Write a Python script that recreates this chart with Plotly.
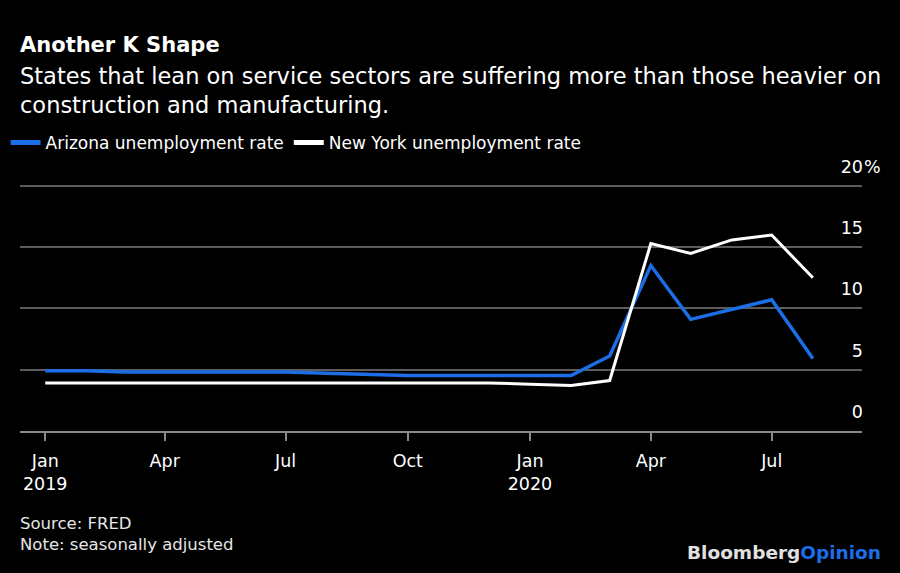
import plotly.graph_objects as go

months = ["2019-01-01","2019-02-01","2019-03-01","2019-04-01","2019-05-01","2019-06-01",
          "2019-07-01","2019-08-01","2019-09-01","2019-10-01","2019-11-01","2019-12-01",
          "2020-01-01","2020-02-01","2020-03-01","2020-04-01","2020-05-01","2020-06-01",
          "2020-07-01","2020-08-01"]
arizona = [4.9, 4.9, 4.8, 4.8, 4.8, 4.8, 4.8, 4.7, 4.6, 4.5, 4.5, 4.5,
           4.5, 4.5, 6.1, 13.5, 9.1, 9.9, 10.7, 5.9]
new_york = [3.9, 3.9, 3.9, 3.9, 3.9, 3.9, 3.9, 3.9, 3.9, 3.9, 3.9, 3.9,
            3.8, 3.7, 4.1, 15.3, 14.5, 15.6, 16.0, 12.5]

x_tickvals = ["2019-01-01","2019-04-01","2019-07-01","2019-10-01","2020-01-01","2020-04-01","2020-07-01"]
x_ticktext = ["Jan<br>2019","Apr","Jul","Oct","Jan<br>2020","Apr","Jul"]
y_tickvals = [0, 5, 10, 15, 20]
y_ticktext = ["0", "5", "10", "15", "20"]

BLUE = "#1b6ee6"
FONT = "DejaVu Sans, Liberation Sans, Arial, sans-serif"

W, H = 900, 573
YTOP = 20.5
L, R, B = 20, 38, 142
PX_PER_UNIT = 12.2
T = round(431.3 - 0.03 * PX_PER_UNIT - (YTOP + 0.03) * PX_PER_UNIT)
ph = H - T - B
pw = W - L - R

def py(p):
    return (H - B - p) / ph

fig = go.Figure()
fig.add_trace(go.Scatter(x=months, y=arizona, mode="lines", name="Arizona unemployment rate",
                         line=dict(color=BLUE, width=3.5)))
fig.add_trace(go.Scatter(x=months, y=new_york, mode="lines", name="New York unemployment rate",
                         line=dict(color="#ffffff", width=3)))

fig.update_layout(
    width=W, height=H,
    paper_bgcolor="#000000", plot_bgcolor="#000000",
    margin=dict(l=L, r=R, t=T, b=B, autoexpand=False),
    font=dict(family=FONT, color="#ffffff", size=17),
    showlegend=True,
    legend=dict(orientation="h", x=-0.01 - 6 / pw, xanchor="left", y=py(143), yanchor="middle",
                font=dict(size=17, color="#ffffff", family=FONT), bgcolor="rgba(0,0,0,0)",
                itemwidth=30, tracegroupgap=0, itemsizing="constant"),
    xaxis=dict(
        type="date", range=["2018-12-13", "2020-09-07"],
        tickvals=x_tickvals, ticktext=x_ticktext,
        showgrid=False, zeroline=False,
        showline=True, linecolor="#8a8a8a", linewidth=1.5,
        ticks="outside", ticklen=8, tickwidth=1.5, tickcolor="#8a8a8a",
        ticklabelstandoff=5,
        tickfont=dict(size=17.5, color="#ffffff", family=FONT),
        fixedrange=True,
    ),
    yaxis=dict(
        range=[-0.03, YTOP], side="right",
        tickvals=y_tickvals, ticktext=y_ticktext,
        showgrid=True, gridcolor="#5c5c5c", gridwidth=1.5,
        zeroline=False, showline=False,
        ticks="", ticklabelposition="inside", ticklabelshift=-19, ticklabelstandoff=-4,
        ticklabeloverflow="allow",
        tickfont=dict(size=17.5, color="#ffffff", family=FONT),
        fixedrange=True,
    ),
    annotations=[
        dict(text="<b>Another K Shape</b>", xref="paper", yref="paper", x=0, y=py(31),
             xanchor="left", yanchor="top", showarrow=False, xshift=-2,
             font=dict(size=21, color="#ffffff", family=FONT)),
        dict(text="States that lean on service sectors are suffering more than those heavier on<br>construction and manufacturing.",
             xref="paper", yref="paper", x=0, y=py(61), xanchor="left", yanchor="top",
             align="left", showarrow=False, xshift=-2,
             font=dict(size=22.5, color="#ffffff", family=FONT)),
        dict(text="%", xref="paper", yref="y", x=1, y=20, xanchor="left", yanchor="middle",
             showarrow=False, yshift=19, xshift=0,
             font=dict(size=17.5, color="#ffffff", family=FONT)),
        dict(text="Source: FRED<br>Note: seasonally adjusted", xref="paper", yref="paper",
             x=0, y=py(512), xanchor="left", yanchor="top", align="left", showarrow=False,
             xshift=-2, font=dict(size=16.5, color="#e6e6e6", family=FONT)),
        dict(text="<b><span style='color:#e0e0e0'>Bloomberg</span><span style='color:" + BLUE + "'>Opinion</span></b>",
             xref="paper", yref="paper", x=1, y=py(552), xanchor="right", yanchor="middle",
             showarrow=False, xshift=21,
             font=dict(size=18.5, color="#e0e0e0", family=FONT)),
    ],
)

fig.write_html("out.html", config={"displayModeBar": False},
               post_script="document.body.style.margin='0';document.body.style.background='#000';")
